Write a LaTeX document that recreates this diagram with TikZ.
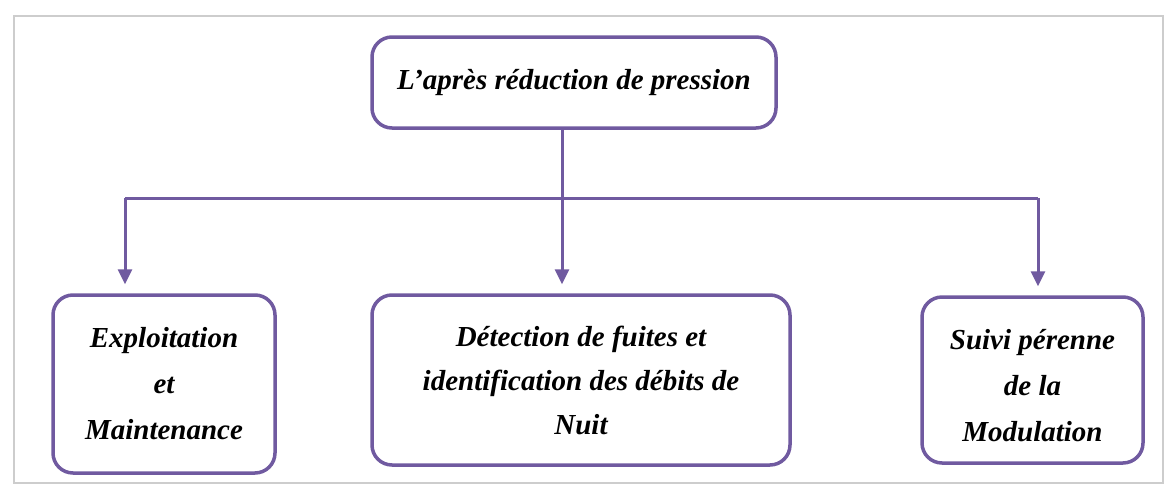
\documentclass[tikz,border=0pt]{standalone}
\usepackage{fontspec}
\setmainfont{Liberation Serif}
\usetikzlibrary{arrows.meta}
\definecolor{boxpurple}{RGB}{112,90,160}
\definecolor{framegray}{RGB}{205,205,205}
\tikzset{
  box/.style={draw=boxpurple, line width=3.5pt, rounded corners=20pt, fill=white,
    align=center, inner sep=0pt,
    font=\fontsize{29}{44}\selectfont\bfseries\itshape},
  link/.style={draw=boxpurple, line width=3pt},
  arr/.style={link, -{Triangle[length=15pt,width=14pt]}, shorten >=9pt},
}
\begin{document}
\begin{tikzpicture}[x=1pt,y=-1pt]
\useasboundingbox (0,0) rectangle (1176,496);
\draw[framegray, line width=2pt] (14,16) rectangle (1163,483);
\node[box, minimum width=404pt, minimum height=91pt] (top) at (574,82.5) {L’après réduction de pression};
\node[box, minimum width=222pt, minimum height=178pt, font=\fontsize{29}{46}\selectfont\bfseries\itshape] (left) at (164,384) {Exploitation\\et\\Maintenance};
\node[box, minimum width=418pt, minimum height=170pt] (mid) at (581,380) {Détection de fuites et\\identification des débits de\\Nuit};
\node[box, minimum width=221pt, minimum height=166pt, font=\fontsize{29}{46}\selectfont\bfseries\itshape] (right) at (1032.5,380) {\rule{0pt}{32pt}Suivi pérenne\\de la\\Modulation};
\coordinate (j) at (562,198);
\coordinate (bl) at (125,198);
\coordinate (br) at (1038,198);
\draw[link] (top.south -| j) -- (j);
\draw[link] (bl) -- (br);
\draw[arr] (bl) -- (bl |- left.north);
\draw[arr] (j) -- (j |- mid.north);
\draw[arr] (br) -- (br |- right.north);
\end{tikzpicture}
\end{document}
